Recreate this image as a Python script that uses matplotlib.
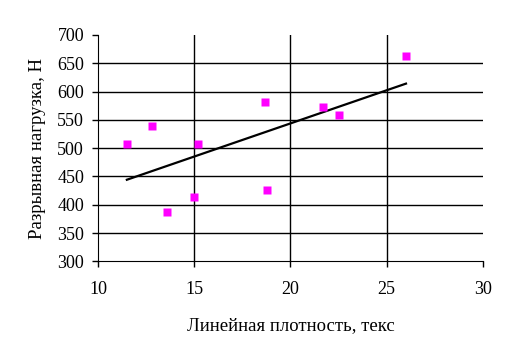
import numpy as np
import matplotlib
matplotlib.use('Agg')
import matplotlib.pyplot as plt

# Линейная плотность, текс / разрывная нагрузка, Н
TEX = [11.5, 12.8, 13.6, 15.0, 15.2, 18.7, 18.8, 21.7, 22.5, 26.0]
LOAD = [507, 539, 388, 413, 507, 581, 426, 572, 559, 662]
X_TICKS = [10, 15, 20, 25, 30]
Y_TICKS = [300, 350, 400, 450, 500, 550, 600, 650, 700]

plt.rcParams['font.family'] = ['Liberation Serif', 'DejaVu Serif']
plt.rcParams['font.size'] = 13

fig = plt.figure(figsize=(5.13, 3.57), dpi=100)
ax = fig.add_axes([0.191, 0.268, 0.7505, 0.634])

# линия тренда
k, b = np.polyfit(TEX, LOAD, 1)
xt = np.array([min(TEX), max(TEX)])
ax.plot(xt, k * xt + b, color='black', lw=1.6, zorder=3)

ax.plot(TEX, LOAD, 's', color='#ff00ff', ms=5.2, mec='none', zorder=4)

ax.set_xlim(10, 30)
ax.set_ylim(300, 700)
ax.set_xticks(X_TICKS)
ax.set_yticks(Y_TICKS)
for y in Y_TICKS[1:-1]:
    ax.axhline(y, color='black', lw=1, zorder=1)
for x in X_TICKS[1:-1]:
    ax.axvline(x, color='black', lw=1, zorder=1)

ax.spines['top'].set_visible(False)
ax.spines['right'].set_visible(False)
ax.tick_params(direction='out', length=4, width=1, color='black', pad=6, labelsize=13)
ax.tick_params(axis='x', pad=10)
ax.set_xlabel('Линейная плотность, текс', fontsize=13.5, labelpad=14)
ax.set_ylabel('Разрывная нагрузка, Н', fontsize=13.5, labelpad=8)

fig.savefig('out.png', dpi=100)
